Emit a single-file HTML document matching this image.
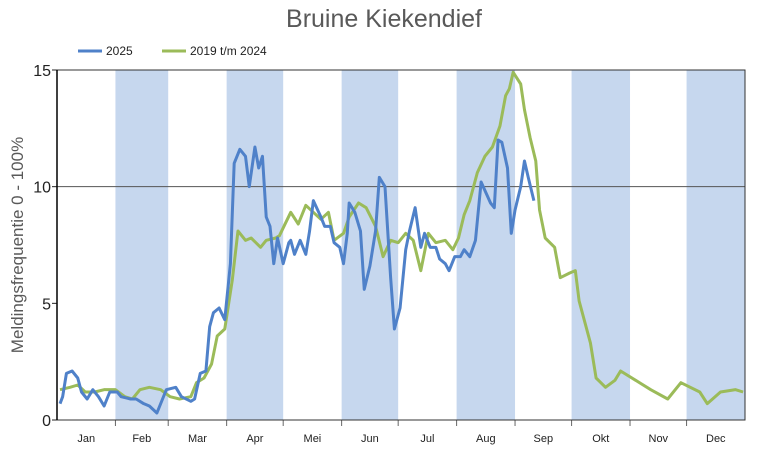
<!DOCTYPE html>
<html><head><meta charset="utf-8"><style>
body{margin:0;background:#fff;font-family:"Liberation Sans",sans-serif}
svg{display:block}
</style></head><body>
<svg id="chart" width="765" height="450">
<text x="384" y="27" text-anchor="middle" font-size="25" fill="#595959">Bruine Kiekendief</text>
<g>
<line x1="78" y1="51" x2="102" y2="51" stroke="#4f81c9" stroke-width="3"/>
<text x="106" y="55" font-size="12" fill="#222">2025</text>
<line x1="162" y1="51" x2="186" y2="51" stroke="#9bbb59" stroke-width="3"/>
<text x="190" y="55" font-size="12" fill="#222">2019 t/m 2024</text>
</g>
<text transform="translate(23,245) rotate(-90)" text-anchor="middle" font-size="17" fill="#595959">Meldingsfrequentie 0 - 100%</text>
<g id="bands"></g><g id="axes"></g><g id="series"></g>
</svg>
<script>
const months=["Jan","Feb","Mar","Apr","Mei","Jun","Jul","Aug","Sep","Okt","Nov","Dec"];
const monthDays=[31,28,31,30,31,30,31,31,30,31,30,31];
const yTicks=[0,5,10,15];
const daysBlue=[1.6,3,5,8,11,13,16,19,22,25,28,32,34,39,42,46,49,53,56,58,63,66,71,73,76,79,81,83,86,89,92,94,97,100,102,105,107,109,111,113,115,117,120,123,124,126,129,132,134,136,140,142,145,147,150,152,154,155,158,161,163,166,169,171,174,177,179,182,185,187,190,193,195,198,201,203,206,208,211,214,216,219,222,225,230,232,234,236,239,241,243,246,248,250,253];
const valuesBlue=[0.7,1.0,2.0,2.1,1.8,1.2,0.9,1.3,1.0,0.6,1.2,1.2,1.0,0.9,0.9,0.7,0.6,0.3,0.9,1.3,1.4,1.0,0.8,0.9,2.0,2.1,4.0,4.6,4.8,4.3,6.7,11.0,11.6,11.3,10.0,11.7,10.8,11.3,8.7,8.3,6.7,7.8,6.7,7.6,7.7,7.1,7.7,7.1,8.1,9.4,8.7,8.3,8.3,7.6,7.4,6.7,8.0,9.3,8.9,8.1,5.6,6.6,8.1,10.4,10.0,6.1,3.9,4.8,7.3,8.1,9.1,7.4,8.0,7.4,7.4,6.9,6.7,6.4,7.0,7.0,7.3,7.0,7.7,10.2,9.3,9.1,12.0,11.9,10.8,8.0,9.0,10.0,11.1,10.4,9.4];
const daysGreen=[1.6,6.9,11,15,20,25,31,36,40,44,49,55,60,65,71,74,78,82,85,89,93,96,100,103,108,111,116,118,124,128,132,136,140,144,147,152,155,160,164,169,173,177,181,185,189,193,197,201,206,210,213,216,219,223,227,231,235,238,240,242,246,248,251,254,256,259,264,267,272,275,277,283,286,291,296,299,307,315,324,331,341,345,352,360,364];
const valuesGreen=[1.3,1.4,1.5,1.2,1.2,1.3,1.3,1.0,0.9,1.3,1.4,1.3,1.0,0.9,1.0,1.6,1.8,2.4,3.6,3.9,6.0,8.1,7.7,7.8,7.4,7.7,7.8,7.9,8.9,8.4,9.2,8.9,8.6,8.9,7.7,8.0,8.7,9.3,9.1,8.3,7.0,7.7,7.6,8.0,7.7,6.4,8.0,7.6,7.7,7.3,7.8,8.8,9.4,10.6,11.3,11.7,12.6,13.9,14.2,14.9,14.4,13.3,12.1,11.1,9.0,7.8,7.4,6.1,6.3,6.4,5.1,3.3,1.8,1.4,1.7,2.1,1.7,1.3,0.9,1.6,1.2,0.7,1.2,1.3,1.2];
const X0=57,X1=745,Y0=420,Y1=70;
const xScale=d=>X0+d/365*(X1-X0);
const yScale=v=>Y0-v/15*(Y0-Y1);
const NS="http://www.w3.org/2000/svg";
function mk(tag,attrs,parent){const e=document.createElementNS(NS,tag);for(const k in attrs)e.setAttribute(k,attrs[k]);parent.appendChild(e);return e;}
const bands=document.getElementById('bands'),axes=document.getElementById('axes'),series=document.getElementById('series');
let start=0;
months.forEach((m,i)=>{
  const a=xScale(start),b=xScale(start+monthDays[i]);
  if(i%2===1){const r=mk('rect',{x:a,y:Y1,width:b-a,height:Y0-Y1,fill:'#c6d7ee'},bands);
    
    }
  const t=mk('text',{x:(a+b)/2,y:442,'text-anchor':'middle','font-size':11,fill:'#222'},axes);
  t.textContent=m;
  
  
  if(i>0){const tk=mk('line',{x1:a,x2:a,y1:Y0,y2:Y0+6,stroke:'#666'},axes);
    
    }
  start+=monthDays[i];
});
yTicks.forEach(v=>{
  const y=yScale(v);
  if(v===10){const g=mk('line',{x1:X0,x2:X1,y1:y,y2:y,stroke:'#555','stroke-width':1},axes);
    
    }
  mk('line',{x1:X0-5,x2:X0,y1:y,y2:y,stroke:'#222'},axes);
  const t=mk('text',{x:X0-6,y:y+6,'text-anchor':'end','font-size':16,fill:'#222'},axes);
  t.textContent=v;
  
  
});
const box=mk('rect',{x:X0,y:Y1,width:X1-X0,height:Y0-Y1,fill:'none',stroke:'#333','stroke-width':1},axes);


const ax=mk('line',{x1:X0,x2:X0,y1:Y1,y2:Y0,stroke:'#000','stroke-width':1.5},axes);


function line(days,vals,color,name){
  const p=mk('polyline',{points:days.map((d,i)=>xScale(d)+','+yScale(vals[i])).join(' '),fill:'none',stroke:color,'stroke-width':3,'stroke-linejoin':'round'},series);
  
  
}
line(daysGreen,valuesGreen,'#9bbb59','series-2019-2024');
line(daysBlue,valuesBlue,'#4f81c9','series-2025');
</script>
</body></html>
